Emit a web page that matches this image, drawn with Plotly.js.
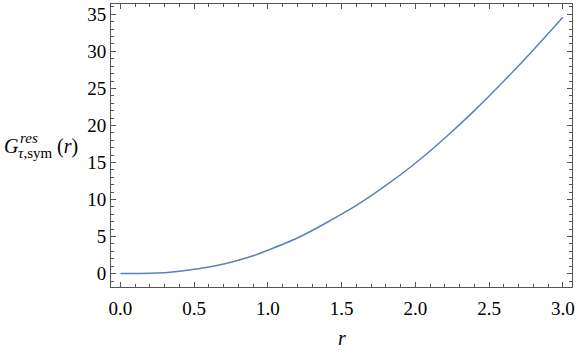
<!DOCTYPE html>
<html>
<head>
<meta charset="utf-8">
<script src="https://cdn.plot.ly/plotly-3.0.1.min.js"></script>
<style>html,body{margin:0;padding:0;background:#fff;}#chart{width:576px;height:355px;}</style>
</head>
<body>
<div id="chart"></div>
<script>
const rValues = [0, 0.1, 0.2, 0.3, 0.4, 0.5, 0.6, 0.7, 0.8, 0.9, 1.0, 1.2, 1.4, 1.6, 1.8, 2.0, 2.2, 2.4, 2.6, 2.8, 3.0];
const gValues = [0, 0.003, 0.03, 0.12, 0.3, 0.58, 0.9, 1.3, 1.8, 2.4, 3.15, 4.8, 6.9, 9.2, 11.9, 14.9, 18.3, 22.0, 26.0, 30.2, 34.6];
const xTickStep = 0.5, xMinorStep = 0.1;
const yTickStep = 5, yMinorStep = 1;
const xRange = [-0.064, 3.062];
const yRange = [-1.81, 36.4];

const SERIF = "Liberation Serif";
const FRAME = "#555555";
const PLOT_L = 111.3, PLOT_W = 460.4, PLOT_B = 286.7, PLOT_H = 282.7;
function px(x) { return (x - PLOT_L) / PLOT_W; }
function py(y) { return (PLOT_B - y) / PLOT_H; }

const layout = {
  width: 576, height: 355,
  margin: {l: 111, r: 4, t: 4, b: 68},
  showlegend: false,
  xaxis: {range: xRange, dtick: xTickStep, tickformat: ".1f",
    ticks: "inside", ticklen: 5, tickwidth: 1, tickcolor: FRAME,
    showline: true, mirror: "allticks", linecolor: FRAME, showgrid: false, zeroline: false,
    ticklabelstandoff: 4,
    tickfont: {family: SERIF, size: 19, color: "#000"},
    minor: {dtick: xMinorStep, ticks: "inside", ticklen: 3, tickcolor: FRAME, tickwidth: 1}},
  yaxis: {range: yRange, dtick: yTickStep,
    ticks: "inside", ticklen: 5, tickwidth: 1, tickcolor: FRAME,
    showline: true, mirror: "allticks", linecolor: FRAME, showgrid: false, zeroline: false,
    tickfont: {family: SERIF, size: 19, color: "#000"},
    minor: {dtick: yMinorStep, ticks: "inside", ticklen: 3, tickcolor: FRAME, tickwidth: 1}},
  annotations: [
    {xref: "paper", yref: "paper", x: 0.5, y: py(338), xanchor: "center", yanchor: "middle",
     text: "<i>r</i>", showarrow: false, font: {family: SERIF, size: 20, color: "#000"}},
    {xref: "paper", yref: "paper", x: px(2), y: py(146), xanchor: "left", yanchor: "middle",
     text: "<i>G</i>", showarrow: false, font: {family: SERIF, size: 20, color: "#000"}},
    {xref: "paper", yref: "paper", x: px(18), y: py(138), xanchor: "left", yanchor: "middle",
     text: "<i>res</i>", showarrow: false, font: {family: SERIF, size: 15, color: "#000"}},
    {xref: "paper", yref: "paper", x: px(16), y: py(153), xanchor: "left", yanchor: "middle",
     text: "<i>τ</i>,sym", showarrow: false, font: {family: SERIF, size: 15, color: "#000"}},
    {xref: "paper", yref: "paper", x: px(55), y: py(146), xanchor: "left", yanchor: "middle",
     text: "(<i>r</i>)", showarrow: false, font: {family: SERIF, size: 20, color: "#000"}}
  ]
};
Plotly.newPlot("chart", [{x: rValues, y: gValues, type: "scatter", mode: "lines",
  line: {color: "#5E81B5", width: 1.5, shape: "spline", smoothing: 0.8}}], layout, {staticPlot: true});
</script>
</body>
</html>
